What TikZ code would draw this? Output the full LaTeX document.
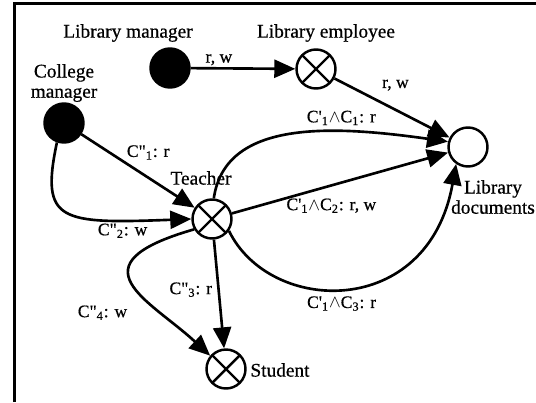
\documentclass[tikz,border=0pt]{standalone}
\usepackage{fontspec}
\setmainfont[FakeBold=0.6]{Liberation Serif}
\usetikzlibrary{arrows.meta}
\tikzset{
  actor/.style = {circle, draw, fill=black, line width=1.4pt, minimum size=0.78cm, inner sep=0pt},
  crossed/.style = {circle, draw, line width=1.4pt, minimum size=0.78cm, inner sep=0pt,
    path picture={\draw[line width=1.4pt] (path picture bounding box.north west) -- (path picture bounding box.south east)
      (path picture bounding box.north east) -- (path picture bounding box.south west);}},
  store/.style = {circle, draw, line width=1.4pt, minimum size=0.78cm, inner sep=0pt},
  arrow/.style = {-{Triangle[length=0.42cm, width=0.36cm]}, line width=1.5pt},
  roletext/.style = {font=\fontsize{11}{11.5}\selectfont, align=center, inner sep=0pt},
  cond/.style = {font=\fontsize{10}{11}\selectfont, inner sep=1pt},
}
\newcommand{\cpp}[1]{C\textquotedbl\textsubscript{#1}}
\newcommand{\cpr}[1]{C\textquotesingle\textsubscript{#1}}

\begin{document}
\begin{tikzpicture}[x=0.02cm, y=0.02cm]
    \useasboundingbox (0,0) rectangle (536,-402);

    % Frame
    \draw[line width=2pt] (14.5,-402) -- (14.5,-3.5) -- (536,-3.5);

    % Nodes
    \node (lm) [actor] at (170,-68) {};
    \node (le) [crossed] at (316,-69) {};
    \node (ld) [store] at (468,-147) {};
    \node (cm) [actor] at (64,-123) {};
    \node (t) [crossed] at (212,-219) {};
    \node (s) [crossed] at (226,-369) {};

    % Names
    \node (lmtext) [roletext] at (128,-33) {Library manager};
    \node (letext) [roletext] at (326,-33) {Library employee};
    \node (cmtext) [roletext] at (64,-83) {College\\manager};
    \node (ttext) [roletext] at (201,-178) {Teacher};
    \node (ldtext) [roletext] at (493,-197) {Library\\documents};
    \node (stext) [roletext] at (280,-370) {Student};

    % Arrows
    \draw [arrow] (lm) -- node[cond, above, pos=0.27] {r, w} (le);
    \draw [arrow] (le) -- node[cond, above=0.32cm, pos=0.53] {r, w} (ld);

    \draw [arrow] (cm) -- node[cond, above=0.3cm, pos=0.59] {\cpp{1}: r} (t);
    \draw [arrow] (cm.250) .. controls (40,-222) and (60,-224) .. node[cond, below, pos=0.79] {\cpp{2}: w} (t.west);

    \draw [arrow] (t.85) .. controls (225,-120) and (330,-125) .. node[cond, above=2pt, pos=0.68] {\cpr{1}$\wedge$C\textsubscript{1}: r} (ld.165);
    \draw [arrow] (t) -- node[cond, below=0.2cm, pos=0.46] {\cpr{1}$\wedge$C\textsubscript{2}: r, w} (ld);
    \draw [arrow] (t.-35) .. controls (270,-315) and (428,-320) .. node[cond, below=0.1cm, pos=0.48] {\cpr{1}$\wedge$C\textsubscript{3}: r} (ld.235);

    \draw [arrow] (t) -- node[cond, left=2pt, pos=0.46] {\cpp{3}: r} (s);
    \draw [arrow] (t.210) .. controls (70,-265) and (150,-300) .. node[cond, anchor=north east, pos=0.6, xshift=-0.25cm, yshift=-0.1cm] {\cpp{4}: w} (s.140);

\end{tikzpicture}
\end{document}
